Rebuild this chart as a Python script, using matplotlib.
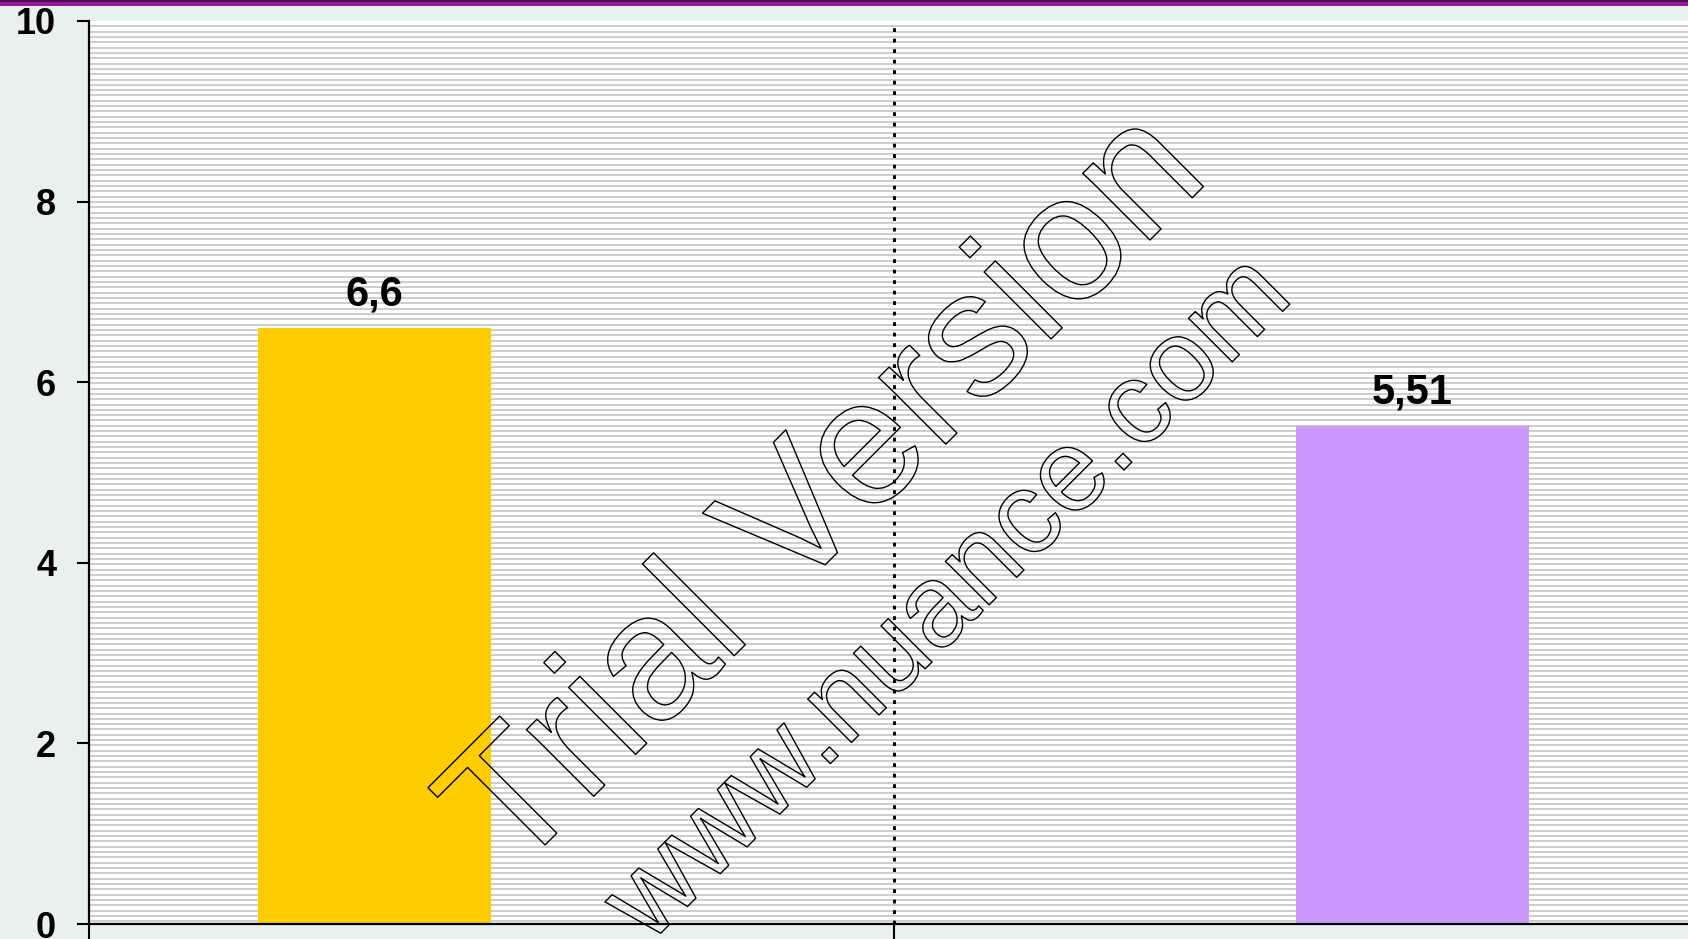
import matplotlib.pyplot as plt
import matplotlib.patheffects as pe
from matplotlib import font_manager
from matplotlib.patches import Rectangle
import numpy as np

# two categories, one bar series each (the other slot is empty)
categories = ['A', 'B']
series_a = [6.6, np.nan]
series_b = [np.nan, 5.51]
labels_a = ['6,6', '']
labels_b = ['', '5,51']
colors = ['#FFCC00', '#CC99FF']
yticks = [0, 2, 4, 6, 8, 10]

plt.rcParams['font.family'] = ['Liberation Sans', 'DejaVu Sans']

fig = plt.figure(figsize=(16.88, 9.39), dpi=100, facecolor='#E9F1F0')
ax = fig.add_axes([89 / 1688, 15 / 939, 1609 / 1688, 903 / 939])
ax.set_facecolor('white')

# striped background
ax.hlines(np.arange(0.03, 10, 0.059), -0.5, 1.5, color='#CDCDCD', lw=1.4, zorder=0)

x = np.arange(len(categories))
w = 0.29
ax.bar(x - w / 2, series_a, w, color=colors[0], zorder=2)
ax.bar(x + w / 2, series_b, w, color=colors[1], zorder=2)

for xs, vals, labs in [(x - w / 2, series_a, labels_a), (x + w / 2, series_b, labels_b)]:
    for xi, v, lab in zip(xs, vals, labs):
        if lab:
            ax.annotate(lab, (xi, v), xytext=(0, 16.5), textcoords='offset points',
                        ha='center', va='baseline', fontsize=30, fontweight='bold')

ax.axvline(0.5, color='black', lw=2.1, linestyle=(0, (1.3, 2.3)), zorder=1)

ax.set_xlim(-0.5, 1.5)
ax.set_ylim(0, 10)
ax.set_yticks(yticks)
ax.set_yticklabels([str(t) for t in yticks], fontsize=26, fontweight='bold')
ax.set_xticks([-0.5, 0.5, 1.5])
ax.set_xticklabels([])
ax.tick_params(axis='y', direction='out', length=8.6, width=1.5, pad=15)
ax.tick_params(axis='x', direction='out', length=11, width=1.5)
for s in ['top', 'right']:
    ax.spines[s].set_visible(False)
for s in ['left', 'bottom']:
    ax.spines[s].set_linewidth(1.6)

# purple rule at the top
fig.add_artist(Rectangle((0, 1 - 2 / 939), 1, 2 / 939, transform=fig.transFigure,
                         color='#4C0B4F', lw=0))
fig.add_artist(Rectangle((0, 1 - 5.5 / 939), 1, 3.5 / 939, transform=fig.transFigure,
                         color='#96189A', lw=0))

# outlined watermark
names = {f.name for f in font_manager.fontManager.ttflist}
if 'Liberation Sans Narrow' in names:
    wm_family, s1, s2 = ['Liberation Sans Narrow'], 145, 97
else:
    wm_family, s1, s2 = ['Liberation Sans'], 129, 84
outline = [pe.Stroke(linewidth=1.0, foreground='black')]
fig.text(862 / 1688, 1 - 528 / 939, 'Trial Version', rotation=45, rotation_mode='anchor',
         ha='center', va='baseline', fontsize=s1, family=wm_family, color='none',
         path_effects=outline, zorder=10)
fig.text(972 / 1688, 1 - 622 / 939, 'www.nuance.com', rotation=45, rotation_mode='anchor',
         ha='center', va='baseline', fontsize=s2, family=wm_family, color='none',
         path_effects=outline, zorder=10)

fig.savefig('out.png', dpi=100, facecolor=fig.get_facecolor())
